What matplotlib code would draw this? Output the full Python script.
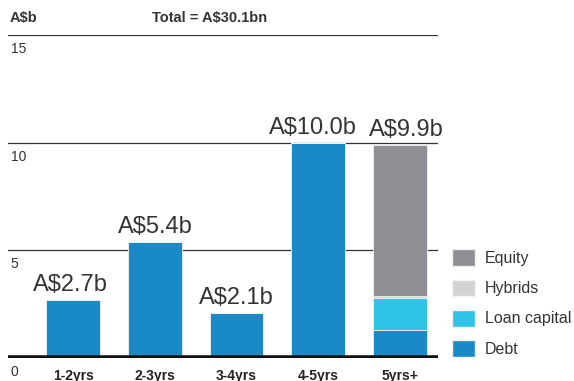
import matplotlib.pyplot as plt
from matplotlib.patches import Patch

plt.rcParams['font.family'] = ['Liberation Sans', 'DejaVu Sans']

# Maturity profile data (A$b)
categories = ['1-2yrs', '2-3yrs', '3-4yrs', '4-5yrs', '5yrs+']
debt = [2.7, 5.4, 2.1, 10.0, 1.3]
loan_capital = [0, 0, 0, 0, 1.5]
hybrids = [0, 0, 0, 0, 0.1]
equity = [0, 0, 0, 0, 7.0]
totals = [2.7, 5.4, 2.1, 10.0, 9.9]
yticks = [0, 5, 10, 15]

colors = {'Debt': '#1a8ac6', 'Loan capital': '#2ec4e6',
          'Hybrids': '#d2d2d4', 'Equity': '#8e8f94'}
text_col = '#333333'

fig = plt.figure(figsize=(5.74, 3.81), dpi=100)
ax = fig.add_axes([8 / 574, 23 / 381, 430 / 574, 323 / 381])

x = list(range(len(categories)))
w = 0.66
bottom = [0] * len(x)
for name, vals in [('Debt', debt), ('Loan capital', loan_capital),
                   ('Hybrids', hybrids), ('Equity', equity)]:
    ax.bar(x, vals, w, bottom=bottom, color=colors[name],
           edgecolor='#f2f2f2', linewidth=0.6, zorder=2)
    bottom = [b + v for b, v in zip(bottom, vals)]

# value labels (last two nudged apart so they don't touch)
nudge = [-2, 0, 0, -4, 5]
for xi, t, dx in zip(x, totals, nudge):
    ax.annotate('A$%.1fb' % t, (xi, t), xytext=(dx, 3), textcoords='offset points',
                ha='center', va='bottom', fontsize=17, color=text_col, zorder=3)

ax.set_xlim(-0.8, 4.47)
ax.set_ylim(0, 15)

# gridlines with labels just below them
for yt in yticks[1:]:
    ax.axhline(yt, color='#333333', lw=0.9, zorder=1)
for yt in yticks:
    ax.annotate(str(yt), (0, yt), xycoords=('axes fraction', 'data'),
                xytext=(2, -5), textcoords='offset points',
                ha='left', va='top', fontsize=10, color=text_col)
ax.axhline(0, color='#111111', lw=4, zorder=3)

for s in ax.spines.values():
    s.set_visible(False)
ax.set_yticks([])
ax.set_xticks(x)
ax.set_xticklabels(categories, fontsize=10, fontweight='bold', color='#222222')
ax.tick_params(axis='x', length=0, pad=8)

fig.text(10 / 574, 1 - 18 / 381, 'A$b', fontsize=10.5, fontweight='bold',
         color=text_col, va='center')
fig.text(152 / 574, 1 - 18 / 381, 'Total = A$30.1bn', fontsize=10.5, fontweight='bold',
         color=text_col, va='center')

handles = [Patch(facecolor=colors[n], edgecolor='#f2f2f2', label=n)
           for n in ['Equity', 'Hybrids', 'Loan capital', 'Debt']]
fig.legend(handles=handles, loc='upper left', bbox_to_anchor=(438 / 574, 1 - 235 / 381),
           frameon=False, fontsize=11.5, handlelength=1.4, handleheight=1.25,
           labelspacing=0.83, handletextpad=0.65, labelcolor=text_col)

fig.savefig('out.png', dpi=100)
